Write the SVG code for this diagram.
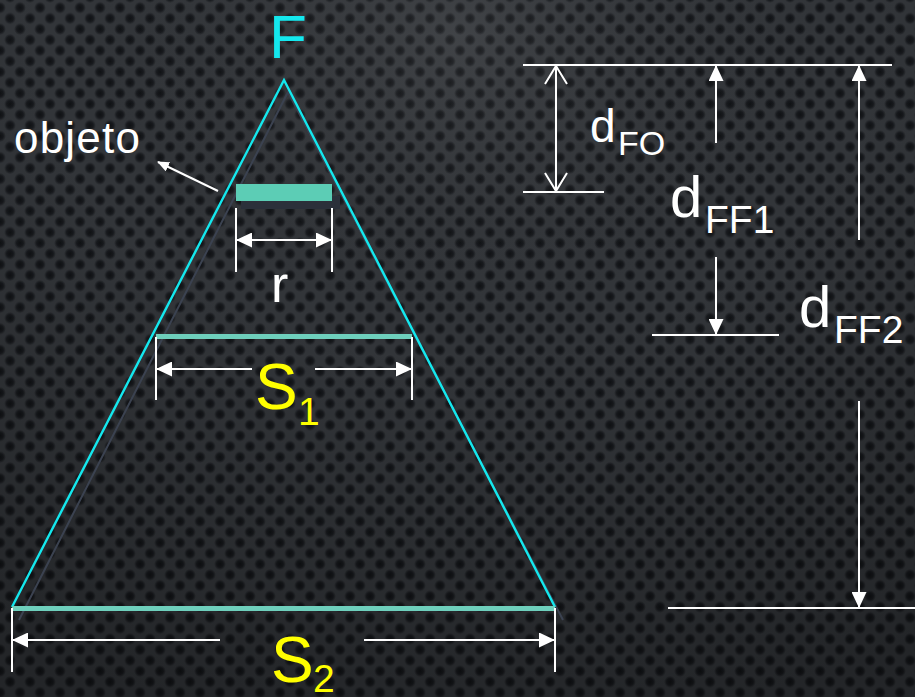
<svg xmlns="http://www.w3.org/2000/svg" width="915" height="697" viewBox="0 0 915 697">
<defs>
<style>
.ln{stroke:#ffffff;stroke-width:2;fill:none}
.tx{font-family:"Liberation Sans",Arial,sans-serif;fill:#ffffff}
.yl{font-family:"Liberation Sans",Arial,sans-serif;fill:#ffff00}
.cy{stroke:#14e8ee;stroke-width:2.4;fill:none}
.bar{fill:#6ecfbc}
</style>
<radialGradient id="dotG">
<stop offset="0" stop-color="#0f1113"/>
<stop offset="0.55" stop-color="#14161a" stop-opacity="0.9"/>
<stop offset="1" stop-color="#15171a" stop-opacity="0"/>
</radialGradient>
<pattern id="dots" patternUnits="userSpaceOnUse" x="10" y="-3" width="20" height="21.4">
<circle cx="0" cy="0" r="6" fill="url(#dotG)"/>
<circle cx="20" cy="0" r="6" fill="url(#dotG)"/>
<circle cx="10" cy="10.7" r="6" fill="url(#dotG)"/>
<circle cx="0" cy="21.4" r="6" fill="url(#dotG)"/>
<circle cx="20" cy="21.4" r="6" fill="url(#dotG)"/>
</pattern>
<radialGradient id="vig" cx="0.5" cy="0.05" r="1.0">
<stop offset="0" stop-color="#ffffff" stop-opacity="0.07"/>
<stop offset="0.45" stop-color="#000000" stop-opacity="0"/>
<stop offset="1" stop-color="#000000" stop-opacity="0.3"/>
</radialGradient>
<marker id="ah" viewBox="0 0 16 15" refX="15" refY="7.5" markerWidth="16" markerHeight="15" markerUnits="userSpaceOnUse" orient="auto-start-reverse">
<path d="M0,0 L16,7.5 L0,15 z" fill="#ffffff"/>
</marker>
<marker id="chev" viewBox="0 0 20 24" refX="19" refY="12" markerWidth="20" markerHeight="24" markerUnits="userSpaceOnUse" orient="auto-start-reverse">
<path d="M1,1 L19,12 L1,23" fill="none" stroke="#ffffff" stroke-width="2"/>
</marker>
<marker id="sm" viewBox="0 0 12 10" refX="11" refY="5" markerWidth="12" markerHeight="10" markerUnits="userSpaceOnUse" orient="auto">
<path d="M0,0 L12,5 L0,10 z" fill="#ffffff"/>
</marker>
</defs>

<g id="background">
<rect width="915" height="697" fill="#323539"/>
<rect width="915" height="697" fill="url(#dots)"/>
<rect width="915" height="697" fill="url(#vig)"/>
</g>

<g id="cone">
<polyline points="19,620 288,92 563,620" fill="none" stroke="#3b4250" stroke-width="2"/>
<polyline class="cy" points="12,607 284,80 555,607"/>
</g>

<g id="focus-F">
<text class="tx" x="269" y="58" font-size="62" style="fill:#14e8ee">F</text>
</g>

<g id="objeto">
<rect x="241" y="196" width="99" height="13" fill="#2b303a"/>
<rect x="236" y="184" width="96" height="17" fill="#5ccdb5"/>
<text class="tx" x="14" y="153" font-size="44" letter-spacing="1.2">objeto</text>
</g>

<g id="S1-bar">
<rect class="bar" x="156" y="334" width="256" height="5"/>
<text class="yl" x="255" y="409" font-size="64">S<tspan x="298" y="425" font-size="39">1</tspan></text>
</g>

<g id="S2-bar">
<rect class="bar" x="12" y="606" width="543" height="5"/>
<text class="yl" x="271" y="682" font-size="64">S<tspan x="313" y="692" font-size="39">2</tspan></text>
</g>

<g id="r-label">
<text class="tx" x="271" y="302" font-size="52">r</text>
</g>

<g id="dFO-label">
<text class="tx" x="590" y="142" font-size="46">d<tspan x="618" y="155" font-size="34">FO</tspan></text>
</g>
<g id="dFF1-label">
<text class="tx" x="670" y="217" font-size="58">d<tspan x="705" y="233" font-size="39">FF1</tspan></text>
</g>
<g id="dFF2-label">
<text class="tx" x="799" y="327" font-size="58">d<tspan x="834" y="343" font-size="39">FF2</tspan></text>
</g>

<g id="connectors">
<line class="ln" x1="236" y1="208" x2="236" y2="272"/>
<line class="ln" x1="332" y1="208" x2="332" y2="272"/>
<line class="ln" x1="156" y1="337" x2="156" y2="400"/>
<line class="ln" x1="412" y1="337" x2="412" y2="400"/>
<line class="ln" x1="12" y1="608" x2="12" y2="672"/>
<line class="ln" x1="555" y1="608" x2="555" y2="672"/>
<line class="ln" x1="523" y1="65" x2="892" y2="65"/>
<line class="ln" x1="523" y1="192" x2="604" y2="192"/>
<line class="ln" x1="652" y1="335" x2="779" y2="335"/>
<line class="ln" x1="668" y1="608" x2="915" y2="608"/>
<line class="ln" x1="237" y1="240" x2="331" y2="240" marker-start="url(#ah)" marker-end="url(#ah)"/>
<line class="ln" x1="252" y1="369" x2="157" y2="369" marker-end="url(#ah)"/>
<line class="ln" x1="315" y1="369" x2="411" y2="369" marker-end="url(#ah)"/>
<line class="ln" x1="220" y1="640" x2="13" y2="640" marker-end="url(#ah)"/>
<line class="ln" x1="364" y1="640" x2="554" y2="640" marker-end="url(#ah)"/>
<line class="ln" x1="556" y1="191" x2="556" y2="66" marker-start="url(#chev)" marker-end="url(#chev)"/>
<line class="ln" x1="716" y1="143" x2="716" y2="66" marker-end="url(#ah)"/>
<line class="ln" x1="716" y1="257" x2="716" y2="334" marker-end="url(#ah)"/>
<line class="ln" x1="859" y1="240" x2="859" y2="66" marker-end="url(#ah)"/>
<line class="ln" x1="859" y1="401" x2="859" y2="607" marker-end="url(#ah)"/>
<line class="ln" x1="218" y1="191" x2="158" y2="162" marker-end="url(#sm)"/>
</g>
</svg>
